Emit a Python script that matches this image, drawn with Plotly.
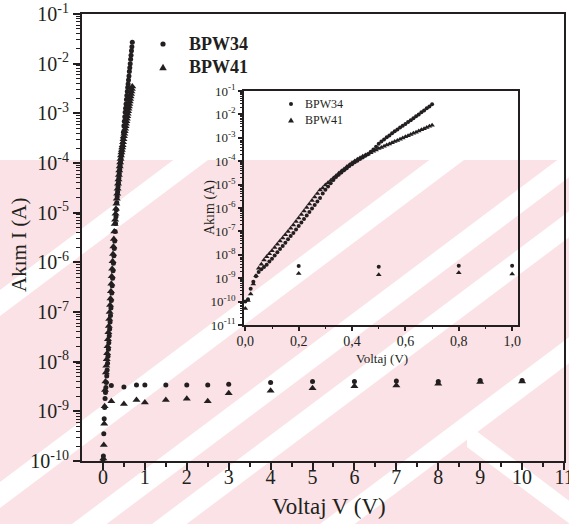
import plotly.graph_objects as go

# ---- measured data -------------------------------------------------------
# forward sweep, 0 - 0.70 V
forward_v = [0.00, 0.01, 0.02, 0.03, 0.04, 0.05, 0.06, 0.07, 0.08, 0.09,
             0.10, 0.11, 0.12, 0.13, 0.14, 0.15, 0.16, 0.17, 0.18, 0.19,
             0.20, 0.21, 0.22, 0.23, 0.24, 0.25, 0.26, 0.27, 0.28, 0.29,
             0.30, 0.31, 0.32, 0.33, 0.34, 0.35, 0.36, 0.37, 0.38, 0.39,
             0.40, 0.41, 0.42, 0.43, 0.44, 0.45, 0.46, 0.47, 0.48, 0.49,
             0.50, 0.51, 0.52, 0.53, 0.54, 0.55, 0.56, 0.57, 0.58, 0.59,
             0.60, 0.61, 0.62, 0.63, 0.64, 0.65, 0.66, 0.67, 0.68, 0.69,
             0.70]

bpw34_forward = [1.00e-10, 1.26e-10, 3.55e-10, 7.08e-10, 1.20e-9, 1.82e-9, 2.40e-9, 3.02e-9, 3.80e-9, 5.13e-9,
                 6.76e-9, 9.33e-9, 1.29e-8, 1.78e-8, 2.40e-8, 3.31e-8, 4.57e-8, 6.31e-8, 8.51e-8, 1.20e-7,
                 1.70e-7, 2.40e-7, 3.39e-7, 4.79e-7, 6.76e-7, 9.55e-7, 1.35e-6, 1.91e-6, 2.69e-6, 4.17e-6,
                 6.03e-6, 8.32e-6, 1.15e-5, 1.58e-5, 2.09e-5, 2.63e-5, 3.31e-5, 4.07e-5, 5.01e-5, 6.17e-5,
                 7.41e-5, 8.91e-5, 1.05e-4, 1.23e-4, 1.45e-4, 1.70e-4, 2.00e-4, 2.51e-4, 3.16e-4, 4.17e-4,
                 5.62e-4, 6.92e-4, 8.51e-4, 1.05e-3, 1.26e-3, 1.55e-3, 1.91e-3, 2.29e-3, 2.75e-3, 3.31e-3,
                 3.89e-3, 4.68e-3, 5.62e-3, 6.92e-3, 8.32e-3, 1.00e-2, 1.23e-2, 1.48e-2, 1.82e-2, 2.19e-2,
                 2.69e-2]

bpw41_forward = [5.01e-11, 1.12e-10, 2.09e-10, 5.62e-10, 1.26e-9, 2.69e-9, 3.98e-9, 6.03e-9, 8.32e-9, 1.12e-8,
                 1.48e-8, 2.04e-8, 2.82e-8, 3.89e-8, 5.25e-8, 7.24e-8, 1.00e-7, 1.38e-7, 1.86e-7, 2.63e-7,
                 3.72e-7, 5.25e-7, 7.41e-7, 1.05e-6, 1.48e-6, 2.09e-6, 2.95e-6, 4.17e-6, 5.89e-6, 7.24e-6,
                 9.55e-6, 1.20e-5, 1.51e-5, 1.91e-5, 2.40e-5, 3.02e-5, 3.80e-5, 4.68e-5, 5.75e-5, 7.08e-5,
                 8.51e-5, 1.02e-4, 1.20e-4, 1.41e-4, 1.62e-4, 1.82e-4, 2.04e-4, 2.29e-4, 2.63e-4, 3.02e-4,
                 3.47e-4, 3.89e-4, 4.37e-4, 4.90e-4, 5.50e-4, 6.17e-4, 6.92e-4, 7.76e-4, 8.71e-4, 9.77e-4,
                 1.10e-3, 1.23e-3, 1.38e-3, 1.55e-3, 1.74e-3, 1.95e-3, 2.19e-3, 2.45e-3, 2.75e-3, 3.09e-3,
                 3.47e-3]

# leakage points, 0.2 - 10 V
leak_v = [0.2, 0.5, 0.8, 1.0, 1.5, 2.0, 2.5, 3.0, 4.0, 5.0, 6.0, 7.0, 8.0, 9.0, 10.0]
bpw34_leak = [3.3e-9, 3.1e-9, 3.4e-9, 3.4e-9, 3.4e-9, 3.4e-9, 3.4e-9, 3.5e-9,
              3.8e-9, 4.0e-9, 4.0e-9, 4.1e-9, 4.0e-9, 4.2e-9, 4.2e-9]
bpw41_leak = [1.6e-9, 1.4e-9, 1.7e-9, 1.5e-9, 1.7e-9, 1.8e-9, 1.6e-9, 2.3e-9,
              2.6e-9, 2.9e-9, 3.2e-9, 3.3e-9, 3.6e-9, 3.9e-9, 4.0e-9]

series_names = ["BPW34", "BPW41"]

main_x_ticks = [0, 1, 2, 3, 4, 5, 6, 7, 8, 9, 10, 11]
main_y_exp = [-10, -9, -8, -7, -6, -5, -4, -3, -2, -1]
inset_x_ticks = [0.0, 0.2, 0.4, 0.6, 0.8, 1.0]
inset_x_labels = ["0,0", "0,2", "0,4", "0,6", "0,8", "1,0"]
inset_y_exp = [-11, -10, -9, -8, -7, -6, -5, -4, -3, -2, -1]

# ---- styling -------------------------------------------------------------
W, H = 569, 524
INK = "#231f20"
SERIF = "Liberation Serif, Times New Roman, serif"
PINK = "#fae2e6"


def px_x(x):
    return x / W


def px_y(y):
    return 1 - y / H


def log_minor(lo, hi):
    vals = []
    for e in range(lo, hi):
        for m in range(2, 10):
            vals.append(m * 10.0 ** e)
    return vals


def poly_path(pts):
    return "M " + " L ".join("%.4f,%.4f" % (px_x(x), px_y(y)) for x, y in pts) + " Z"


def label(text, x, y, size, angle=0, xanchor="center", bold=False):
    fig.add_annotation(text=text, x=px_x(x), y=px_y(y), xref="paper", yref="paper",
                       xanchor=xanchor, yanchor="middle", textangle=angle, showarrow=False,
                       font=dict(family=SERIF, size=size, color=INK,
                                 weight="bold" if bold else "normal"))


fig = go.Figure()

# main panel
all_v = forward_v + leak_v
fig.add_trace(go.Scatter(
    x=all_v, y=bpw34_forward + bpw34_leak, mode="markers", name=series_names[0],
    marker=dict(symbol="circle", size=5, color=INK), xaxis="x", yaxis="y"))
fig.add_trace(go.Scatter(
    x=all_v, y=bpw41_forward + bpw41_leak, mode="markers", name=series_names[1],
    marker=dict(symbol="triangle-up", size=7, color=INK), xaxis="x", yaxis="y"))

# inset panel: only the points up to 1 V
inset_v = [v for v in all_v if v <= 1.0]
n_in = len(inset_v)
fig.add_trace(go.Scatter(
    x=inset_v, y=(bpw34_forward + bpw34_leak)[:n_in], mode="markers", name=series_names[0],
    marker=dict(symbol="circle", size=4, color=INK), cliponaxis=False,
    xaxis="x2", yaxis="y2"))
fig.add_trace(go.Scatter(
    x=inset_v, y=(bpw41_forward + bpw41_leak)[:n_in], mode="markers", name=series_names[1],
    marker=dict(symbol="triangle-up", size=5, color=INK), cliponaxis=False,
    xaxis="x2", yaxis="y2"))

axis_common = dict(showgrid=False, zeroline=False, showline=True, linecolor=INK,
                   ticks="outside", tickcolor=INK, mirror=True, ticklabeloverflow="allow")

fig.update_layout(
    width=W, height=H,
    margin=dict(l=0, r=0, t=0, b=0, autoexpand=False),
    paper_bgcolor="white",
    plot_bgcolor="rgba(0,0,0,0)",
    font=dict(family=SERIF, color=INK),
    showlegend=False,
    xaxis=dict(
        **axis_common, domain=[px_x(82), px_x(564)], range=[-0.5, 11], anchor="y",
        linewidth=2, tickwidth=2, ticklen=7, ticklabelstandoff=-10,
        tickmode="array", tickvals=main_x_ticks, ticktext=[str(t) for t in main_x_ticks],
        tickfont=dict(family=SERIF, size=20, color=INK),
        minor=dict(tickmode="array", tickvals=[t + 0.5 for t in main_x_ticks[:-1]],
                   ticks="outside", ticklen=4, tickwidth=1.5, tickcolor=INK, showgrid=False),
    ),
    yaxis=dict(
        **axis_common, type="log", domain=[px_y(461), px_y(14)], range=[-10, -1], anchor="x",
        linewidth=2, tickwidth=2, ticklen=7,
        tickmode="array", tickvals=[10.0 ** e for e in main_y_exp],
        ticktext=["10<sup>%d</sup>" % e for e in main_y_exp],
        tickfont=dict(family=SERIF, size=20, color=INK),
        minor=dict(tickmode="array", tickvals=log_minor(-10, -1),
                   ticks="outside", ticklen=4, tickwidth=1.2, tickcolor=INK, showgrid=False),
    ),
    xaxis2=dict(
        **axis_common, domain=[px_x(244), px_x(518)], range=[-0.005, 1.022], anchor="y2",
        linewidth=1.5, tickwidth=1.5, ticklen=4, ticklabelstandoff=-2,
        tickmode="array", tickvals=inset_x_ticks, ticktext=inset_x_labels,
        tickfont=dict(family=SERIF, size=14, color=INK),
        minor=dict(tickmode="array", tickvals=[t + 0.1 for t in inset_x_ticks[:-1]],
                   ticks="outside", ticklen=2.5, tickwidth=1, tickcolor=INK, showgrid=False),
    ),
    yaxis2=dict(
        **axis_common, type="log", domain=[px_y(325), px_y(91)], range=[-11, -1], anchor="x2",
        linewidth=1.5, tickwidth=1.5, ticklen=4,
        tickmode="array", tickvals=[10.0 ** e for e in inset_y_exp],
        ticktext=["10<sup>%d</sup>" % e for e in inset_y_exp],
        tickfont=dict(family=SERIF, size=13, color=INK),
        minor=dict(tickmode="array", tickvals=log_minor(-11, -1),
                   ticks="outside", ticklen=2, tickwidth=1, tickcolor=INK, showgrid=False),
    ),
)

# axis titles
label("Akım I (A)", 19, 245, 21, angle=-90)
label("Voltaj V (V)", 329, 506, 23)
label("Akım (A)", 210, 208, 14, angle=-90)
label("Voltaj (V)", 382, 358, 13)


# legend keys: symbol + label
def legend_key(cx, cy, symbol, r, text, size, bold, text_x):
    if symbol == "circle":
        fig.add_shape(type="circle", xref="paper", yref="paper",
                      x0=px_x(cx - r), x1=px_x(cx + r), y0=px_y(cy + r), y1=px_y(cy - r),
                      fillcolor=INK, line=dict(width=0))
    else:
        fig.add_shape(type="path", xref="paper", yref="paper",
                      path=poly_path([(cx - r * 1.15, cy + r), (cx + r * 1.15, cy + r), (cx, cy - r)]),
                      fillcolor=INK, line=dict(width=0))
    label(text, text_x, cy, size, xanchor="left", bold=bold)


legend_key(163, 44, "circle", 2.6, series_names[0], 18, True, 187)
legend_key(163, 67, "triangle", 3.3, series_names[1], 18, True, 187)
legend_key(291, 104, "circle", 2.0, series_names[0], 12, False, 303)
legend_key(291, 120, "triangle", 2.6, series_names[1], 12, False, 303)

# pale background print behind the lower part of the page
fig.add_shape(type="rect", xref="paper", yref="paper", x0=0, x1=1, y0=0, y1=px_y(160),
              fillcolor=PINK, line=dict(width=0), layer="below")
slope = 0.75
top, bottom = 160, 524
for k_lo, k_hi in [(290, 316), (482, 508), (578, 604), (638, 664), (764, 790)]:
    pts = [((k_lo - top) / slope, top), ((k_hi - top) / slope, top),
           ((k_hi - bottom) / slope, bottom), ((k_lo - bottom) / slope, bottom)]
    fig.add_shape(type="path", path=poly_path(pts), xref="paper", yref="paper",
                  fillcolor="white", line=dict(width=0), layer="below")
# right-hand arm of the chevron
fig.add_shape(type="path", xref="paper", yref="paper", layer="below",
              path=poly_path([(467, 424), (600, 524), (570, 524), (467, 447)]),
              fillcolor="white", line=dict(width=0))

fig.write_html("out.html")
